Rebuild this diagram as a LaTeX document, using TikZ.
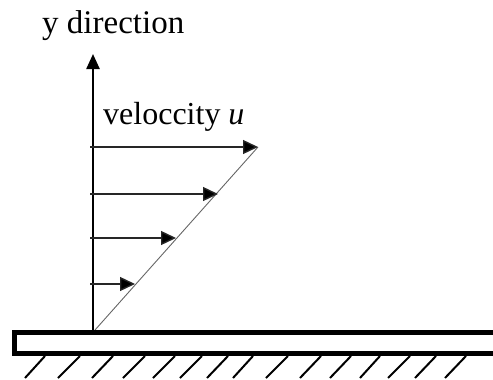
\documentclass[tikz,border=0pt]{standalone}
\usepackage{fontspec}
\setmainfont{Liberation Serif}
\usetikzlibrary{arrows.meta}
\begin{document}
\begin{tikzpicture}[x=1pt,y=-1pt,
  lbl/.style={anchor=base west,inner sep=0pt},
  axisline/.style={line width=2.4pt,-{Triangle[length=15pt,width=13pt]}},
  velarrow/.style={line width=1.4pt,draw=black!85,-{Triangle[length=15pt,width=14pt,fill=black]}},
  profile/.style={line width=0.9pt,draw=black!60},
  platebox/.style={line width=5pt},
  hatchline/.style={line width=2pt}]
\useasboundingbox (0,0) rectangle (493,380);
\clip (0,0) rectangle (493,380);
% text
\node[lbl,font=\fontsize{33}{38}\selectfont] (ylab) at (42,33) {y direction};
\node[lbl,font=\fontsize{32}{37}\selectfont] (vlab) at (103,124) {veloccity \textit{u}};
% coordinates
\coordinate (o) at (93,331);
\coordinate (ytop) at (93,54);
\coordinate (ptop) at (258,147);
% axis
\draw[axisline] (o) -- (ytop);
% profile line
\draw[profile] (95,330) -- (ptop);
% velocity arrows
\coordinate (a1s) at (90,147); \coordinate (a1e) at (ptop);
\coordinate (a2s) at (90,194); \coordinate (a2e) at (218,194);
\coordinate (a3s) at (90,238); \coordinate (a3e) at (176,238);
\coordinate (a4s) at (90,284); \coordinate (a4e) at (135,284);
\draw[velarrow] (a1s) -- (a1e);
\draw[velarrow] (a2s) -- (a2e);
\draw[velarrow] (a3s) -- (a3e);
\draw[velarrow] (a4s) -- (a4e);
% plate
\draw[platebox] (500,332) -- (14.5,332) -- (14.5,353.5) -- (500,353.5);
% hatches
\foreach \b/\t in {25/45,58/80,92/113,123/145,153/175,180/202,207/228,233/253,266/288,300/321,330/351,360/380,388/410,415/436,445/466}
  \draw[hatchline] (\b,378) -- (\t,356);
\end{tikzpicture}
\end{document}
